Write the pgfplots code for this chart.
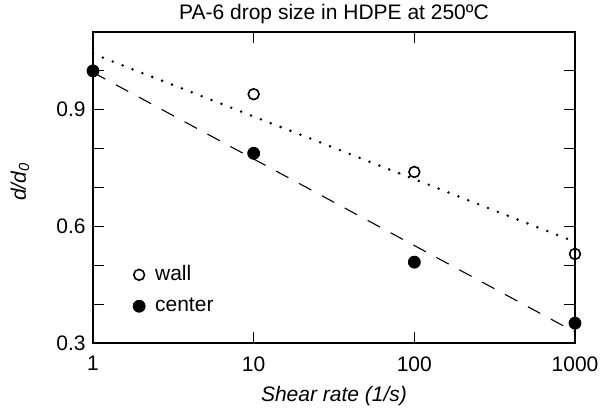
\documentclass[border=0pt]{standalone}
\usepackage{fontspec}
\setmainfont{Liberation Sans}
\usepackage{pgfplots}
\pgfplotsset{compat=1.18}
\begin{document}
\begin{tikzpicture}
\begin{axis}[
  scale only axis,
  width=241pt, height=155.5pt,
  xmode=log, log basis x=10,
  xmin=1, xmax=1000, ymin=0.3, ymax=1.1,
  xtick={1,10,100,1000},
  xticklabels={1,10,100,1000},
  minor xtick={},
  ytick={0.3,0.6,0.9},
  yticklabels={0.3,0.6,0.9},
  minor ytick={0.4,0.5,0.7,0.8,1.0},
  tick align=inside,
  major tick length=5.5pt, minor tick length=5.5pt,
  tick style={black, line width=0.6pt},
  axis line style={line width=0.6pt},
  /pgf/number format/assume math mode=true,
  ticklabel style={font=\fontsize{10.5}{12}\selectfont},
  xticklabel style={inner ysep=0pt, yshift=-6.5pt},
  yticklabel style={inner xsep=0pt, xshift=-3.5pt},
  title={PA-6 drop size in HDPE at 250ºC},
  title style={font=\fontsize{10.5}{12}\selectfont, at={(axis description cs:0.5,1)}, anchor=center, yshift=3pt},
  xlabel={\itshape Shear rate (1/s)},
  ylabel={\itshape d/d\textsubscript{0}},
  label style={font=\fontsize{10.5}{12}\selectfont},
  xlabel style={at={(axis description cs:0.5,0)}, anchor=center, yshift=-26.5pt},
  ylabel style={at={(axis description cs:0,0.5)}, anchor=center, yshift=36.5pt, xshift=3pt},
  legend style={at={(axis description cs:0.07,0.17)}, anchor=west, draw=none, fill=none,
    font=\fontsize{10.5}{12}\selectfont, row sep=3pt,
    legend cell align=left},
  legend image code/.code={\draw[mark repeat=2,mark phase=2,#1] plot coordinates {(0cm,0cm) (0.1cm,0cm) (0.2cm,0cm)};},
]
\addplot[black, line width=1.4pt, dash pattern=on 0pt off 5.3pt, line cap=round, forget plot]
  coordinates {(1,1.044) (1000,0.560)};
\addplot[black, line width=0.55pt, dash pattern=on 7pt off 6pt, forget plot]
  coordinates {(1,0.996) (1000,0.328)};
\addplot[only marks, mark=o, mark size=2.7pt, mark options={line width=0.8pt, fill=white, draw=black}]
  coordinates {(10,0.940) (100,0.740) (1000,0.529)};
\addlegendentry{\hspace{3pt}wall}
\addplot[only marks, mark=*, mark size=3pt, mark options={fill=black, draw=black}]
  coordinates {(1,1.0) (10,0.788) (100,0.508) (1000,0.351)};
\addlegendentry{\hspace{3pt}center}
\end{axis}
\pgfresetboundingbox
\path[use as bounding box] ([xshift=-46.5pt,yshift=-32.5pt]current axis.south west) rectangle ([xshift=14pt,yshift=16pt]current axis.north east);
\end{tikzpicture}
\end{document}
